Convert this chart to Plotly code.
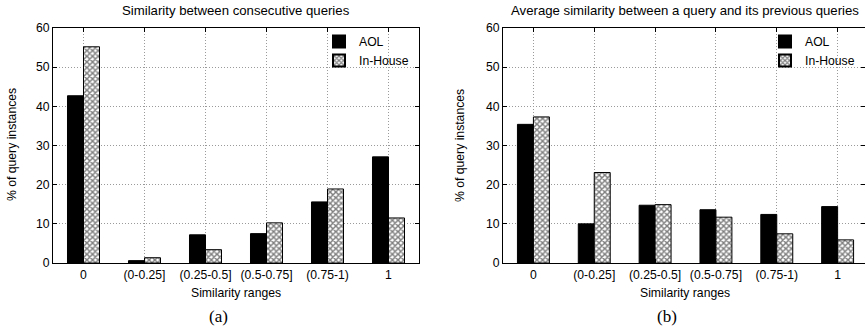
import plotly.graph_objects as go

categories = ["0", "(0-0.25]", "(0.25-0.5]", "(0.5-0.75]", "(0.75-1)", "1"]
aol_a = [42.7, 0.6, 7.2, 7.5, 15.6, 27.1]
inhouse_a = [55.2, 1.35, 3.4, 10.25, 18.9, 11.5]
aol_b = [35.4, 10.0, 14.75, 13.6, 12.4, 14.4]
inhouse_b = [37.3, 23.1, 14.9, 11.7, 7.45, 5.9]
y_ticks = [0, 10, 20, 30, 40, 50, 60]

FONT = "Liberation Sans, Arial, sans-serif"
FS = 12.2
W, H = 865, 336


def px(x):
    return x / W


def py(y):
    return 1 - y / H


fig = go.Figure()


def add_pair(aol, ih, xa, ya, leg):
    fig.add_trace(go.Bar(
        x=categories, y=aol, name="AOL", xaxis=xa, yaxis=ya, legend=leg,
        marker=dict(color="black", line=dict(color="black", width=1)),
        offsetgroup="a"))
    fig.add_trace(go.Bar(
        x=categories, y=ih, name="In-House", xaxis=xa, yaxis=ya, legend=leg,
        marker=dict(color="white", line=dict(color="black", width=1),
                    pattern=dict(shape="x", size=4, solidity=0.6,
                                 fgcolor="black", bgcolor="white")),
        offsetgroup="b"))


add_pair(aol_a, inhouse_a, "x", "y", "legend")
add_pair(aol_b, inhouse_b, "x2", "y2", "legend2")

ydom = [py(263), py(28)]
axis_common = dict(
    showline=True, linecolor="black", linewidth=1, mirror="ticks",
    ticks="inside", ticklen=4, tickcolor="black",
    showgrid=True, gridcolor="#9a9a9a", griddash="1px,2px", gridwidth=1,
    tickfont=dict(family=FONT, size=FS, color="black"), zeroline=False,
    automargin=False,
)

leg_common = dict(xanchor="right", yanchor="top", bgcolor="rgba(0,0,0,0)",
                  font=dict(family=FONT, size=FS), tracegroupgap=0,
                  itemsizing="constant", itemwidth=30)

fig.update_layout(
    width=W, height=H,
    margin=dict(l=0, r=0, t=0, b=0, autoexpand=False),
    paper_bgcolor="white", plot_bgcolor="white",
    barmode="group", bargap=0.475, bargroupgap=0,
    font=dict(family=FONT, size=FS, color="black"),
    xaxis=dict(domain=[px(53), px(419)], anchor="y", range=[-0.5, 5.5],
               type="category", **axis_common),
    yaxis=dict(domain=ydom, anchor="x", range=[0, 60], tickvals=y_ticks,
               **axis_common),
    xaxis2=dict(domain=[px(503), 1.0], anchor="y2", range=[-0.5, 5.45],
                type="category", **axis_common),
    yaxis2=dict(domain=ydom, anchor="x2", range=[0, 60], tickvals=y_ticks,
                **axis_common),
    legend=dict(x=px(414), y=py(27), **leg_common),
    legend2=dict(x=px(860), y=py(27), **leg_common),
)

ann = [
    dict(text="Similarity between consecutive queries", x=236, y=10, size=13.2),
    dict(text="Average similarity between a query and its previous queries", x=685, y=10, size=13.2),
    dict(text="Similarity ranges", x=236, y=293, size=FS),
    dict(text="Similarity ranges", x=685, y=293, size=FS),
]
for a in ann:
    fig.add_annotation(text=a["text"], x=px(a["x"]), y=py(a["y"]), xref="paper", yref="paper",
                       showarrow=False, xanchor="center", yanchor="middle",
                       font=dict(family=FONT, size=a["size"], color="black"))
for txt, x in [("(a)", 218), ("(b)", 667)]:
    fig.add_annotation(text=txt, x=px(x), y=py(316), xref="paper", yref="paper",
                       showarrow=False, xanchor="center", yanchor="middle",
                       font=dict(family="Liberation Serif, Times New Roman, serif", size=17, color="black"))
for x in [12, 460]:
    fig.add_annotation(text="% of query instances", x=px(x), y=py(145), xref="paper", yref="paper",
                       showarrow=False, xanchor="center", yanchor="middle", textangle=-90,
                       font=dict(family=FONT, size=FS, color="black"))

fig.write_html("out.html", config={"displayModeBar": False},
               post_script="document.body.style.margin='0';document.body.style.overflow='hidden';")
